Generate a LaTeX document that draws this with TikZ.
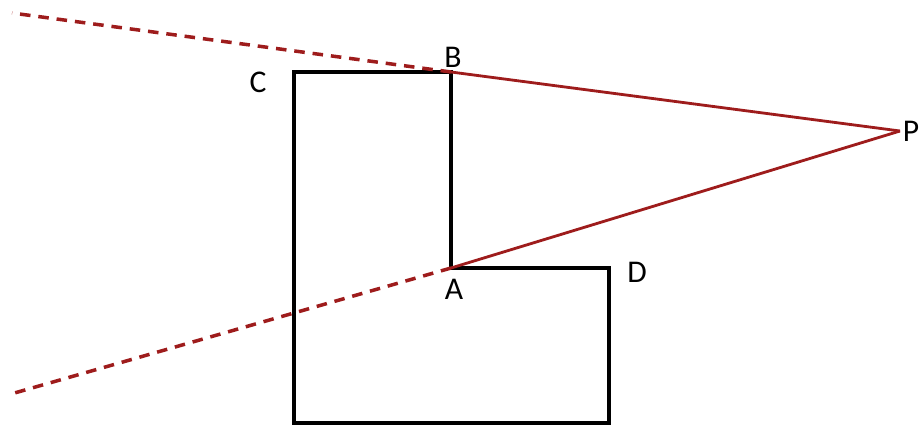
\documentclass[tikz,border=0pt]{standalone}
\usepackage{fontspec}
\setmainfont{Carlito}
\usepackage{tikz}
\usetikzlibrary{positioning,calc}
\definecolor{rayred}{HTML}{9E1C1C}
\tikzset{
  % Outline of the L-shaped room
  wall/.style={draw=black,line width=2.8pt,line join=miter},
  % Sight lines from P
  ray/.style={draw=rayred,line width=1.6pt},
  rayext/.style={draw=rayred,line width=2pt,dash pattern=on 6pt off 4.5pt},
  % Point labels
  lbl/.style={font=\fontsize{18}{18}\selectfont,inner sep=1pt}
}
\begin{document}
\begin{tikzpicture}[x=0.02cm,y=-0.02cm]
  \useasboundingbox (0,0) rectangle (923,430);

  % --- Corner points ---
  \coordinate (c)  at (294,72);
  \coordinate (b)  at (451,72);
  \coordinate (a)  at (451,268);
  \coordinate (d)  at (609,268);
  \coordinate (dr) at (609,423);
  \coordinate (dl) at (294,423);
  \coordinate (p)  at (900,131);
  \coordinate (bfar) at (12,13);
  \coordinate (afar) at (11,394);

  % --- Room outline ---
  \draw[wall] (b) -- (a) -- (d) -- (dr) -- (dl) -- (c) -- cycle;

  % --- Rays from P ---
  \draw[ray] (p) -- (b);
  \draw[ray] (p) -- (a);
  \draw[rayext] (b) -- (bfar);
  \draw[rayext] (a) -- (afar);

  % --- Labels ---
  \node[lbl] (lc) at (258,82)  {C};
  \node[lbl] (lb) at (453,57)  {B};
  \node[lbl] (la) at (454,289) {A};
  \node[lbl] (ld) at (637,272) {D};
  \node[lbl] (lp) at (911,131) {P};
\end{tikzpicture}
\end{document}
